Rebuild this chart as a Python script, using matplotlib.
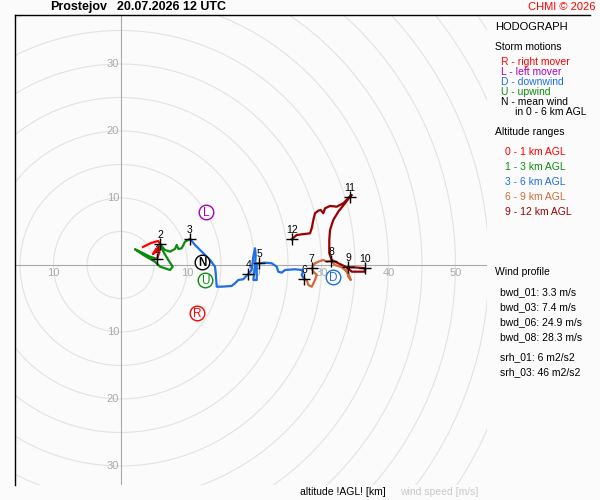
import matplotlib
matplotlib.use("Agg")
import matplotlib.pyplot as plt
from matplotlib.patches import Circle
from matplotlib.lines import Line2D

plt.rcParams['font.family'] = ['Liberation Sans', 'DejaVu Sans']

# hodograph trace, u / v components in m/s, split by altitude range
u_0_1 = [3.36, 4.55, 5.60, 6.04, 5.60, 4.85, 5.30, 5.90, 5.75, 5.45]
v_0_1 = [2.69, 3.28, 3.58, 2.99, 2.24, 1.64, 2.39, 2.69, 1.79, 0.90]

u_1_3 = [5.45, 4.40, 2.91, 2.16, 3.40, 5.15, 5.90, 7.39, 7.79, 7.13, 6.39, 5.90,
         6.64, 7.39, 8.13, 8.39, 8.63, 9.13, 9.63, 10.37]
v_1_3 = [0.90, 1.24, 1.99, 2.34, 1.49, 0.49, -0.25, -0.75, -0.25, 0.75, 1.99, 3.09,
         2.24, 1.99, 2.39, 2.99, 2.39, 2.49, 3.48, 3.88]

u_3_6 = [10.37, 11.12, 12.12, 13.36, 14.10, 14.21, 14.36, 15.10, 16.60, 17.09, 17.58,
         18.33, 19.07, 19.58, 19.82, 20.07, 20.18, 20.07, 19.82, 20.33, 20.33, 20.67,
         21.57, 22.57, 23.31, 23.55, 24.06, 24.55, 26.04, 27.04, 27.24, 27.04, 27.39]
v_3_6 = [3.88, 2.99, 1.99, 0.75, -0.25, -1.24, -3.24, -3.24, -3.13, -2.73, -2.24,
         -2.13, -1.34, -0.75, 1.24, 2.49, 1.49, -0.25, -2.24, -2.24, 0.25, 0.25,
         0.34, 0.25, -0.25, -1.00, -1.15, -0.75, -0.64, -0.75, -1.04, -1.49, -2.09]

u_6_9 = [27.39, 27.79, 28.03, 28.54, 29.03, 29.28, 28.78, 28.54, 29.03, 29.52, 30.27,
         30.78, 31.42, 32.01, 33.01, 33.51, 34.00, 34.36, 34.00, 33.76, 34.00]
v_6_9 = [-2.09, -2.24, -2.99, -3.24, -2.24, -1.49, -1.00, -0.49, 0.25, 0.49, 0.75,
         0.49, 0.60, 0.00, -0.34, -0.75, -1.24, -2.24, -1.75, -0.75, -0.34]

u_9_12 = [34.00, 34.75, 36.49, 36.49, 34.51, 33.76, 32.51, 31.52, 31.16, 31.16, 31.27,
          31.76, 32.51, 33.51, 34.25, 34.51, 34.00, 33.25, 32.27, 31.27, 30.52, 30.27,
          29.88, 29.52, 29.03, 28.78, 28.54, 28.28, 27.54, 26.30, 25.55]
v_9_12 = [-0.34, -0.34, -0.49, -1.00, -1.00, -0.34, 0.25, 0.75, 1.75, 3.73, 5.22,
          6.72, 7.96, 9.21, 10.19, 10.45, 9.96, 9.21, 8.70, 8.81, 8.46, 7.72,
          8.21, 8.10, 7.72, 6.72, 5.48, 4.73, 4.63, 4.48, 3.84]

layer_colors = ['#ff0000', '#0c8c0c', '#1e6ee6', '#d06a38', '#990000']
layer_names = ['0 - 1 km AGL', '1 - 3 km AGL', '3 - 6 km AGL', '6 - 9 km AGL', '9 - 12 km AGL']

# altitude markers [km]
height_km = [1, 2, 3, 4, 5, 6, 7, 8, 9, 10, 11, 12]
height_u = [5.45, 5.90, 10.37, 19.07, 20.67, 27.39, 28.54, 31.42, 34.00, 36.49, 34.25, 25.55]
height_v = [0.90, 3.09, 3.88, -1.34, 0.25, -2.09, -0.49, 0.60, -0.34, -0.49, 10.19, 3.84]

# storm motions
motion_labels = ['R', 'L', 'D', 'U', 'N']
motion_u = [11.42, 12.76, 31.72, 12.61, 12.16]
motion_v = [-7.16, 7.91, -1.79, -2.24, 0.45]
motion_colors = ['#ff0000', '#aa00bb', '#1e6ee6', '#0c8c0c', '#000000']
motion_texts = ['R - right mover', 'L - left mover', 'D - downwind', 'U - upwind', 'N - mean wind']

ring_radii = list(range(5, 70, 5))
axis_ticks = [10, 20, 30]
x_ticks = [-10, 10, 20, 30, 40, 50]

wind_profile = ['bwd_01: 3.3 m/s', 'bwd_03: 7.4 m/s', 'bwd_06: 24.9 m/s', 'bwd_08: 28.3 m/s']
helicity = ['srh_01: 6 m2/s2', 'srh_03: 46 m2/s2']

bg = '#fbfbfb'
grid_c = '#e2e2e2'
label_c = '#aaaaaa'

fig = plt.figure(figsize=(6, 5), dpi=100, facecolor=bg)
W, H = 600, 500


def fx(x):
    return x / W


def fy(y):
    return 1 - y / H


ax = fig.add_axes([15 / W, 15 / H, 472 / W, 470 / H], facecolor=bg)
ax.set_xlim(-15.75, 54.70)
ax.set_ylim(-32.84, 37.31)
ax.set_xticks([])
ax.set_yticks([])
for s in ['right', 'bottom', 'top']:
    ax.spines[s].set_visible(False)
ax.spines['left'].set_color('black')
ax.spines['left'].set_linewidth(1)

for r in ring_radii:
    ax.add_patch(Circle((0, 0), r, fill=False, ec=grid_c, lw=0.8, zorder=1))
ax.axhline(0, color='#a8a8a8', lw=0.8, zorder=2)
ax.axvline(0, color='#a8a8a8', lw=0.8, zorder=2)

for t in axis_ticks:
    for v in (t, -t):
        ax.text(-0.2, v, str(t), ha='right', va='center', color=label_c, fontsize=8, zorder=3)
for u in x_ticks:
    ax.text(u, -1.25, str(abs(u)), ha='center', va='center', color=label_c, fontsize=8, zorder=3)

traces = [(u_0_1, v_0_1), (u_1_3, v_1_3), (u_3_6, v_3_6), (u_6_9, v_6_9), (u_9_12, v_9_12)]
for (uu, vv), c in zip(traces, layer_colors):
    ax.plot(uu, vv, color=c, lw=1.6, zorder=4, solid_joinstyle='round')

ax.plot(height_u, height_v, '+', color='black', ms=8, mew=1, zorder=5)
for h, u, v in zip(height_km, height_u, height_v):
    ax.annotate(str(h), (u, v), xytext=(0, 6.5), textcoords='offset points',
                ha='center', va='center', fontsize=7.5, zorder=6)

for lab, u, v, c in zip(motion_labels, motion_u, motion_v, motion_colors):
    ax.plot(u, v, 'o', ms=10.5, mfc='white', mec=c, mew=1, zorder=6)
    ax.text(u, v - 0.1, lab, ha='center', va='center', color=c, fontsize=8.5,
            fontweight='bold' if lab == 'N' else 'normal', zorder=7)

# frame line across the top
fig.add_artist(Line2D([fx(15), fx(590)], [fy(15), fy(15)], color='black', lw=1))

fig.text(fx(50), fy(7), 'Prostejov', fontsize=9, fontweight='bold', va='center')
fig.text(fx(117), fy(7), '20.07.2026 12 UTC', fontsize=9, fontweight='bold', va='center')
fig.text(fx(596), fy(7), 'CHMI © 2026', fontsize=8, color='#ff0000', ha='right', va='center')

fig.text(fx(495), fy(27), 'HODOGRAPH', fontsize=8, va='center')
fig.text(fx(495), fy(47), 'Storm motions', fontsize=7.5, va='center')
for i, (t, c) in enumerate(zip(motion_texts, motion_colors)):
    fig.text(fx(501), fy(62 + 10 * i), t, fontsize=7.5, color=c, va='center')
fig.text(fx(515), fy(112), 'in 0 - 6 km AGL', fontsize=7.5, va='center')

fig.text(fx(495), fy(132), 'Altitude ranges', fontsize=7.5, va='center')
for i, (t, c) in enumerate(zip(layer_names, layer_colors)):
    fig.text(fx(505), fy(152 + 15 * i), t, fontsize=7.5, color=c, va='center')

fig.text(fx(495), fy(272), 'Wind profile', fontsize=7.5, va='center')
for i, t in enumerate(wind_profile):
    fig.text(fx(500), fy(292 + 15 * i), t, fontsize=7.5, va='center')
for i, t in enumerate(helicity):
    fig.text(fx(500), fy(357 + 15 * i), t, fontsize=7.5, va='center')

fig.text(fx(300), fy(492), 'altitude !AGL! [km]', fontsize=7.5, va='center')
fig.text(fx(400), fy(492), 'wind speed [m/s]', fontsize=7.5, color='#c8c8c8', va='center')

fig.savefig('out.png', dpi=100, facecolor=bg)
